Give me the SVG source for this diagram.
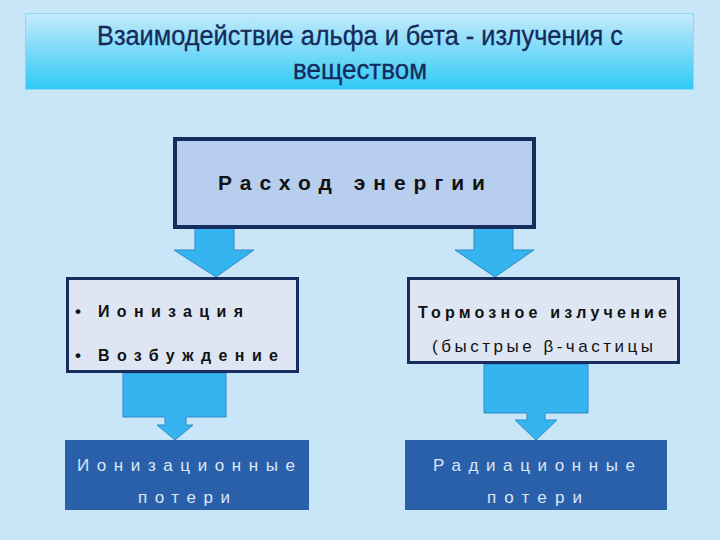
<svg xmlns="http://www.w3.org/2000/svg" width="720" height="540" viewBox="0 0 720 540">
<defs>
<linearGradient id="tg" x1="0" y1="0" x2="0" y2="1">
<stop offset="0" stop-color="#c4eafb"/>
<stop offset="1" stop-color="#2fcaf6"/>
</linearGradient>
</defs>
<style>
.arrow{fill:#36b4f0;stroke:#2a8cc6;stroke-width:1}
.title{font-family:"Liberation Sans",Arial,sans-serif;font-size:27px;fill:#142a5c;stroke:#142a5c;stroke-width:0.3}
.sp{font-family:"Liberation Sans",Arial,sans-serif;fill:#111}
.lt{font-family:"Liberation Sans",Arial,sans-serif;font-size:17px;fill:#dbe7f6}
</style>
<rect width="720" height="540" fill="#c8e6f7"/>
<g id="title">
<rect x="25.5" y="13.5" width="668" height="76" fill="url(#tg)" stroke="#8fd8f2" stroke-width="1"/>
<text class="title" x="97" y="45" textLength="526" lengthAdjust="spacingAndGlyphs">Взаимодействие альфа и бета - излучения с</text>
<text class="title" x="293" y="79" textLength="134" lengthAdjust="spacingAndGlyphs">веществом</text>
</g>
<g id="connectors">
<polygon class="arrow" points="195,226 234,226 234,250 254,250 216,277 174,250 195,250"/>
<polygon class="arrow" points="474,226 513,226 513,250 534,250 495,277 455,250 474,250"/>
<polygon class="arrow" points="123,373 226,373 226,417 186,417 186,425 193,425 175,440 157,425 165,425 165,417 123,417"/>
<polygon class="arrow" points="484,364 588,364 588,413 545,413 545,420 557,420 536,440 515,420 527,420 527,413 484,413"/>
</g>
<g id="energy">
<rect x="175" y="139" width="359" height="88" fill="#b8ceee" stroke="#172d5e" stroke-width="4"/>
<text class="sp" x="218" y="190" font-size="21" font-weight="bold" textLength="267" lengthAdjust="spacing">Расход энергии</text>
</g>
<g id="ionization">
<rect x="67.5" y="278.5" width="230" height="93" fill="#dfe6f3" stroke="#172d5e" stroke-width="3"/>
<text class="sp" x="75" y="317" font-size="17" font-weight="bold">•</text>
<text class="sp" x="98" y="317" font-size="16" font-weight="bold" textLength="145" lengthAdjust="spacing">Ионизация</text>
<text class="sp" x="75" y="361" font-size="17" font-weight="bold">•</text>
<text class="sp" x="98" y="361" font-size="16" font-weight="bold" textLength="180" lengthAdjust="spacing">Возбуждение</text>
</g>
<g id="bremsstrahlung">
<rect x="408.5" y="278.5" width="270" height="84" fill="#dfe6f3" stroke="#172d5e" stroke-width="3"/>
<text class="sp" x="418" y="318" font-size="16" font-weight="bold" textLength="249" lengthAdjust="spacing">Тормозное излучение</text>
<text class="sp" x="432" y="352" font-size="17" textLength="221" lengthAdjust="spacing">(быстрые β-частицы</text>
</g>
<g id="ion-losses">
<rect x="65" y="440" width="244" height="70" fill="#2a60a9"/>
<text class="lt" x="77" y="471" textLength="218" lengthAdjust="spacing">Ионизационные</text>
<text class="lt" x="138" y="503" textLength="92" lengthAdjust="spacing">потери</text>
</g>
<g id="rad-losses">
<rect x="405" y="440" width="262" height="70" fill="#2a60a9"/>
<text class="lt" x="433" y="471" textLength="202" lengthAdjust="spacing">Радиационные</text>
<text class="lt" x="487" y="503" textLength="95" lengthAdjust="spacing">потери</text>
</g>
</svg>
